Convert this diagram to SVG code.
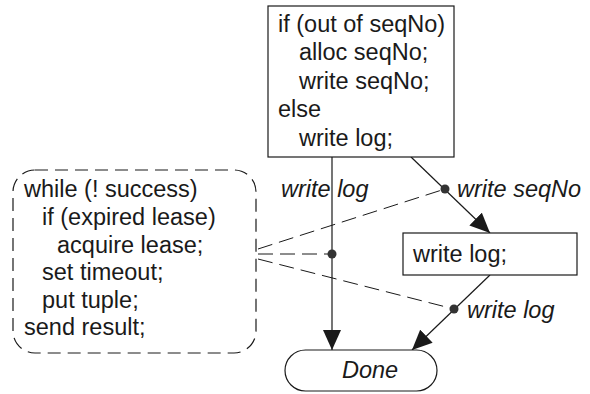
<svg xmlns="http://www.w3.org/2000/svg" width="590" height="394" viewBox="0 0 590 394">
  <defs>
    <marker id="arrow" markerUnits="userSpaceOnUse" markerWidth="20" markerHeight="18" viewBox="0 0 20 18" refX="20" refY="9" orient="auto">
      <path d="M0,0 L20,9 L0,18 Z" fill="#1a1a1a"/>
    </marker>
    <style>
      .box { fill: #fff; stroke: #1a1a1a; stroke-width: 1.2; }
      .dashbox { fill: none; stroke: #1a1a1a; stroke-width: 1.2; stroke-dasharray: 13 7; }
      .flow { fill: none; stroke: #1a1a1a; stroke-width: 1.2; }
      .dep { fill: none; stroke: #1a1a1a; stroke-width: 1; stroke-dasharray: 15 7; }
      .dot { fill: #333; }
      text { font-family: "Liberation Sans", Arial, sans-serif; font-size: 23.5px; fill: #1a1a1a; }
      .it { font-style: italic; }
    </style>
  </defs>

  <!-- connectors -->
  <g id="connectors">
    <line class="flow" x1="332" y1="157" x2="332" y2="350" marker-end="url(#arrow)"/>
    <line class="flow" x1="411" y1="157" x2="490" y2="233" marker-end="url(#arrow)"/>
    <line class="flow" x1="490" y1="275" x2="412" y2="350" marker-end="url(#arrow)"/>
    <line class="dep" x1="258" y1="249" x2="445" y2="189"/>
    <line class="dep" x1="258" y1="254" x2="332" y2="254"/>
    <line class="dep" x1="258" y1="259" x2="454" y2="309"/>
    <circle class="dot" cx="445" cy="189" r="4.5"/>
    <circle class="dot" cx="332" cy="254" r="4.5"/>
    <circle class="dot" cx="454" cy="309" r="4.5"/>
    <text class="it" x="281" y="197">write log</text>
    <text class="it" x="457" y="197">write seqNo</text>
    <text class="it" x="467" y="318">write log</text>
  </g>

  <!-- sequence-number check -->
  <g id="seqno">
    <rect class="box" x="268" y="6" width="186" height="151"/>
    <text x="278" y="32">if (out of seqNo)</text>
    <text x="299" y="60">alloc seqNo;</text>
    <text x="299" y="89">write seqNo;</text>
    <text x="278" y="117">else</text>
    <text x="299" y="146">write log;</text>
  </g>

  <!-- lease loop -->
  <g id="lease">
    <rect class="dashbox" x="13" y="170" width="243" height="183" rx="22" ry="22"/>
    <text x="24" y="197">while (! success)</text>
    <text x="42" y="225">if (expired lease)</text>
    <text x="57" y="253">acquire lease;</text>
    <text x="42" y="280">set timeout;</text>
    <text x="42" y="308">put tuple;</text>
    <text x="24" y="335">send result;</text>
  </g>

  <!-- log write -->
  <g id="writelog">
    <rect class="box" x="403" y="233" width="174" height="42"/>
    <text x="413" y="262">write log;</text>
  </g>

  <!-- terminal -->
  <g id="done">
    <rect class="box" x="285" y="350" width="152" height="41" rx="20.5" ry="20.5"/>
    <text class="it" x="370" y="378" text-anchor="middle">Done</text>
  </g>
</svg>
